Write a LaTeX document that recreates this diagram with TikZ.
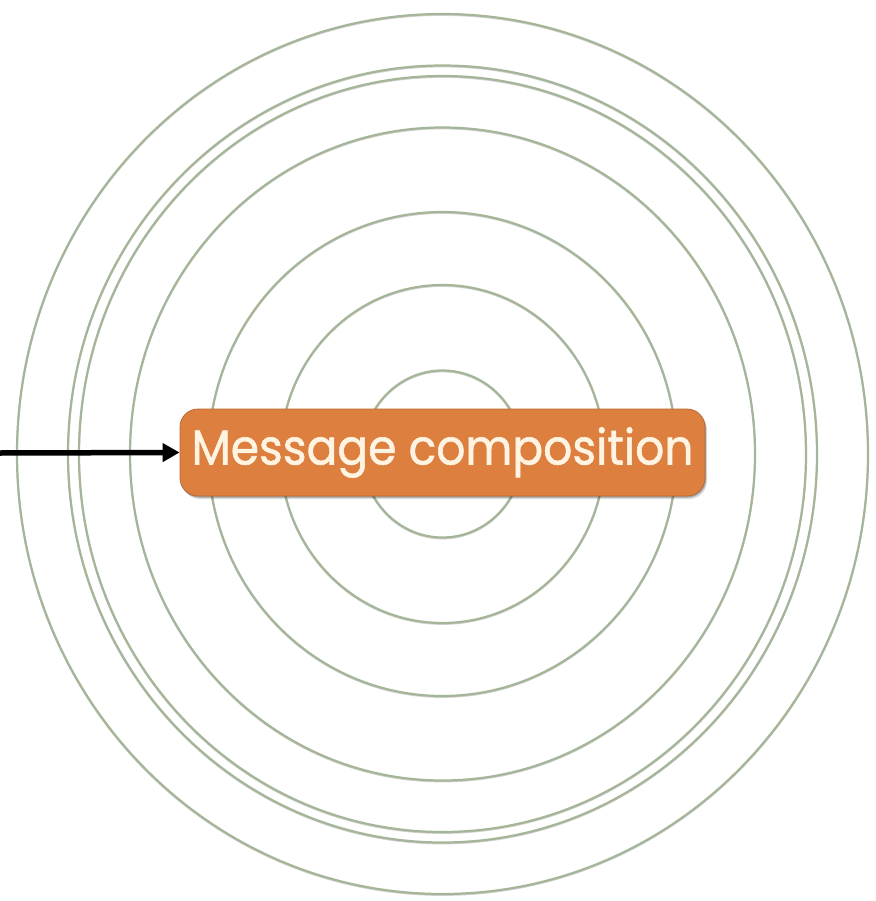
\documentclass[tikz,border=0pt]{standalone}
\usepackage{fontspec}
\newfontfamily\boxfont{Poppins}[FakeBold=1.2]
\usetikzlibrary{arrows.meta}
\definecolor{ring}{HTML}{A4B598}
\definecolor{ringshadow}{HTML}{D2D2D2}
\definecolor{boxfill}{HTML}{DC7F3F}
\definecolor{boxedge}{HTML}{B96A35}
\definecolor{boxtext}{HTML}{FFF4E2}
\tikzset{
  ringline/.style={draw=ring, line width=2.2pt},
  ringshade/.style={draw=ringshadow, line width=1.8pt},
  msgbox/.style={draw=boxedge, line width=0.8pt, fill=boxfill, rounded corners=18pt,
    minimum width=525pt, minimum height=87pt, inner sep=0pt, text=boxtext,
    font=\boxfont\fontsize{49}{49}\selectfont},
  boxshade/.style={fill=black, rounded corners=18pt, minimum width=525pt, minimum height=87pt, inner sep=0pt},
  arrowline/.style={line width=5.5pt, -{Triangle[length=17pt,width=18pt]}}
}
\begin{document}
\begin{tikzpicture}[x=1pt,y=-1pt]
\useasboundingbox (0,0) rectangle (875,901);
\fill[white] (0,0) rectangle (875,901);
\coordinate (c) at (442.5,454);
\foreach \rx/\ry in {425.5/440, 374.5/388.5, 363.5/378, 312.5/326.5, 234/242, 162/169, 80/83.5} {
  \draw[ringshade] ([yshift=-1pt]c) ellipse [x radius=\rx, y radius=\ry];
  \draw[ringline] (c) ellipse [x radius=\rx, y radius=\ry];
}
\node[boxshade, opacity=0.15] (sh1) at (444.5,455.5) {};
\node[boxshade, opacity=0.25] (sh2) at (443.5,454) {};
\node[msgbox] (msg) at (442.5,452.5) {\raisebox{-3pt}{\scalebox{0.93}[1]{Message composition}}};
\coordinate (src) at (0,453);
\draw[arrowline] (src) -- (msg.west);
\end{tikzpicture}
\end{document}
